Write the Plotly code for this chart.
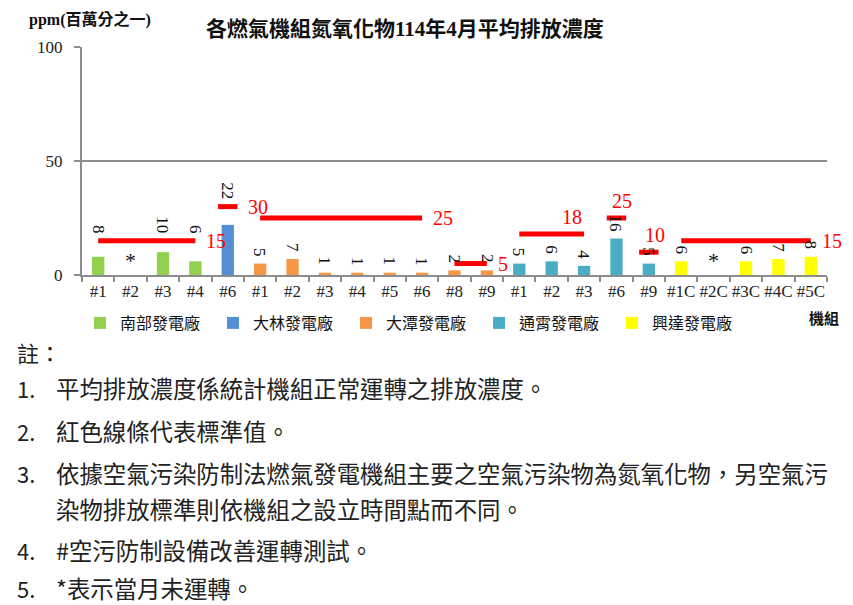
import plotly.graph_objects as go

# plants and their units (left to right)
plants = ["南部發電廠", "大林發電廠", "大潭發電廠", "通霄發電廠", "興達發電廠"]
plant_colors = ["#92D050", "#558ED5", "#F79646", "#4BACC6", "#FFFF00"]
plant_sizes = [4, 1, 8, 5, 5]
units = ["#1", "#2", "#3", "#4",
         "#6",
         "#1", "#2", "#3", "#4", "#5", "#6", "#8", "#9",
         "#1", "#2", "#3", "#6", "#9",
         "#1C", "#2C", "#3C", "#4C", "#5C"]
# NOx average (ppm), None = unit not running this month (*)
nox = [8, None, 10, 6,
       22,
       5, 7, 1, 1, 1, 1, 2, 2,
       5, 6, 4, 16, 5,
       6, None, 6, 7, 8]

# emission standards (red lines): value, first unit index, last unit index
std_values = [15, 30, 25, 5, 18, 25, 10, 15]
std_first = [0, 4, 5, 11, 13, 16, 17, 18]
std_last = [3, 4, 10, 12, 15, 16, 17, 22]

note_nums = ["1.", "2.", "3.", "", "4.", "5."]
note_texts = ["平均排放濃度係統計機組正常運轉之排放濃度。",
              "紅色線條代表標準值。",
              "依據空氣污染防制法燃氣發電機組主要之空氣污染物為氮氧化物，另空氣污",
              "染物排放標準則依機組之設立時間點而不同。",
              "#空污防制設備改善運轉測試。",
              "*表示當月未運轉。"]

W, H = 853, 605
L, R, T, B = 82, 26, 47, 330
SERIF = "Liberation Serif, Noto Sans CJK TC, serif"
SANS = "Noto Sans CJK TC, sans-serif"


def px_x(px):
    return (px - L) / (W - L - R)


def px_y(py):
    return (H - B - py) / (H - B - T)


fig = go.Figure()

# bars, one trace per plant so the legend works
start = 0
plant_of = []
for name, color, size in zip(plants, plant_colors, plant_sizes):
    idx = list(range(start, start + size))
    fig.add_trace(go.Bar(x=idx, y=[nox[i] for i in idx], name=name,
                         marker=dict(color=color, line=dict(width=0)),
                         width=0.38))
    plant_of += [name] * size
    start += size

# standard lines
side = ["right", "right", "right", "right", "above", "above", "above", "right"]
annots = []
for k, v in enumerate(std_values):
    a, b = std_first[k], std_last[k]
    if a == b:
        x0, x1 = a - 0.3, b + 0.3
    else:
        x0, x1 = a, b
    fig.add_trace(go.Scatter(x=[x0, x1], y=[v, v], mode="lines",
                             line=dict(color="#FF0000", width=5),
                             showlegend=False, hoverinfo="skip"))
    if side[k] == "right":
        annots.append(dict(x=x1, y=v, xref="x", yref="y", text=str(v),
                           xanchor="left", yanchor="middle", xshift=9,
                           showarrow=False,
                           font=dict(family=SERIF, size=20, color="#FF0000")))
    else:
        annots.append(dict(x=x1, y=v, xref="x", yref="y", text=str(v),
                           xanchor="right", yanchor="bottom", yshift=4,
                           xshift=8 if a == b else 0,
                           showarrow=False,
                           font=dict(family=SERIF, size=20, color="#FF0000")))

# value labels (rotated); 南部 / 大林 labels sit above their red line
std_of_unit = {}
for k, v in enumerate(std_values):
    for i in range(std_first[k], std_last[k] + 1):
        std_of_unit[i] = v
for i, v in enumerate(nox):
    if v is None:
        annots.append(dict(x=i, y=0, xref="x", yref="y", text="*",
                           yanchor="bottom", yshift=0, showarrow=False,
                           font=dict(family=SERIF, size=22, color="#111")))
        continue
    base = v
    if plant_of[i] in ("南部發電廠", "大林發電廠"):
        base = std_of_unit[i]
    annots.append(dict(x=i, y=base, xref="x", yref="y", text=str(v),
                       textangle=90, yanchor="bottom", yshift=5,
                       showarrow=False,
                       font=dict(family=SERIF, size=17, color="#111")))

# titles and side labels
annots.append(dict(x=px_x(27), y=px_y(19), xref="paper", yref="paper",
                   text="ppm(百萬分之一)", xanchor="left", yanchor="middle",
                   showarrow=False,
                   font=dict(family=SERIF, size=16, color="#111", weight="bold")))
annots.append(dict(x=px_x(405), y=px_y(29), xref="paper", yref="paper",
                   text="各燃氣機組氮氧化物114年4月平均排放濃度",
                   xanchor="center", yanchor="middle", showarrow=False,
                   font=dict(family=SERIF, size=21, color="#111", weight="bold")))
annots.append(dict(x=px_x(824), y=px_y(318), xref="paper", yref="paper",
                   text="機組", xanchor="center", yanchor="middle",
                   showarrow=False,
                   font=dict(family=SERIF, size=15, color="#111", weight="bold")))

# notes below the chart
annots.append(dict(x=px_x(15), y=px_y(352), xref="paper", yref="paper",
                   text="註：", xanchor="left", yanchor="middle",
                   showarrow=False, font=dict(family=SANS, size=22, color="#222")))
note_y = [388, 431, 473, 509, 550, 588]
for num, txt, py in zip(note_nums, note_texts, note_y):
    if num:
        annots.append(dict(x=px_x(15), y=px_y(py), xref="paper", yref="paper",
                           text=num, xanchor="left", yanchor="middle",
                           showarrow=False,
                           font=dict(family=SANS, size=22, color="#222")))
    annots.append(dict(x=px_x(54), y=px_y(py), xref="paper", yref="paper",
                       text=txt, xanchor="left", yanchor="middle",
                       showarrow=False,
                       font=dict(family=SANS, size=23.4, color="#222")))

fig.update_layout(
    width=W, height=H,
    margin=dict(l=L, r=R, t=T, b=B, autoexpand=False),
    paper_bgcolor="white", plot_bgcolor="white",
    bargap=0.6,
    annotations=annots,
    legend=dict(orientation="h", x=px_x(80), y=px_y(323),
                xanchor="left", yanchor="middle",
                entrywidth=88, entrywidthmode="pixels", itemwidth=30,
                font=dict(family=SERIF, size=16, color="#111")),
    xaxis=dict(range=[-0.5, len(units) - 0.5],
               tickvals=list(range(len(units))), ticktext=units,
               ticks="", showgrid=False, zeroline=False,
               showline=True, linecolor="#8c8c8c", linewidth=2,
               tickfont=dict(family=SERIF, size=17, color="#222"),
               minor=dict(tickvals=[i - 0.5 for i in range(len(units) + 1)],
                          ticks="outside", ticklen=5, tickwidth=1.5,
                          tickcolor="#8c8c8c", showgrid=False)),
    yaxis=dict(range=[0, 100], tickvals=[0, 50, 100],
               ticks="outside", ticklen=6, tickwidth=1.5, tickcolor="#8c8c8c",
               showgrid=True, gridcolor="#8c8c8c", gridwidth=1.5,
               zeroline=False, showline=True, linecolor="#8c8c8c",
               linewidth=2, ticklabelstandoff=8,
               tickfont=dict(family=SERIF, size=17, color="#222")),
)

# page body has an 8px default margin; drop it so the figure fills the window
fig.write_html("out.html", config={"displayModeBar": False},
               post_script="document.body.style.margin='0';")
